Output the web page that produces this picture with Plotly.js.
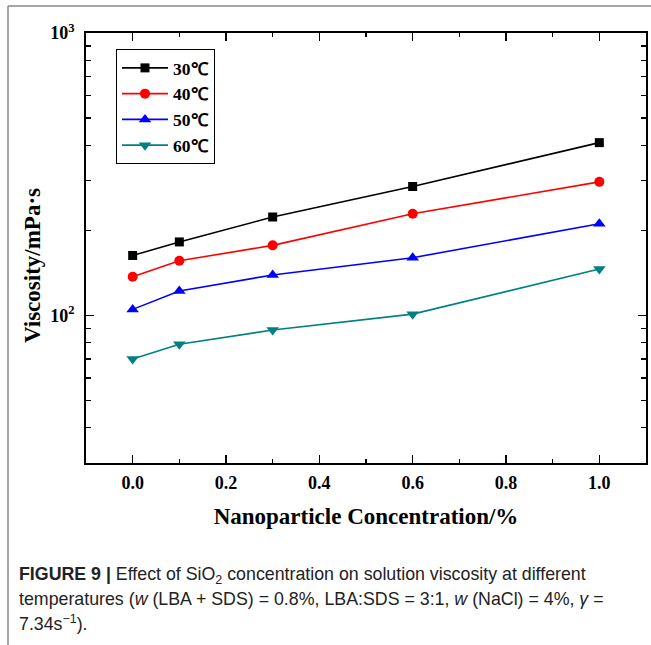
<!DOCTYPE html>
<html>
<head>
<meta charset="utf-8">
<script src="https://cdn.plot.ly/plotly-3.0.1.min.js"></script>
<style>
html,body{margin:0;padding:0;background:#fff;}
#chart{width:651px;height:645px;}
</style>
</head>
<body>
<div id="chart"></div>
<script>
// ---- data ----
const concentration = [0, 0.1, 0.3, 0.6, 1.0];
const seriesNames = ["30\u2103", "40\u2103", "50\u2103", "60\u2103"];
const visc30 = [163, 182, 223, 286, 409];
const visc40 = [137, 156, 177, 229, 297];
const visc50 = [105, 122, 139, 160, 211];
const visc60 = [70, 79, 88.7, 101, 146];
const xTickVals = [0, 0.2, 0.4, 0.6, 0.8, 1.0];
const xTickText = ["0.0", "0.2", "0.4", "0.6", "0.8", "1.0"];
const yTickVals = [100, 1000];
const yTickText = ["10<sup>2</sup>", "10<sup>3</sup>"];
const yMinorVals = [40, 50, 60, 70, 80, 90, 200, 300, 400, 500, 600, 700, 800, 900];
const xTitle = "Nanoparticle Concentration/%";
const yTitle = "Viscosity/mPa\u00b7s";
const captionLines = [
  "<b>FIGURE 9 |</b> Effect of SiO<sub>2</sub> concentration on solution viscosity at different",
  "temperatures (<i>w</i> (LBA + SDS) = 0.8%, LBA:SDS = 3:1, <i>w</i> (NaCl) = 4%, <i>\u03b3</i> =",
  "7.34s<sup>\u22121</sup>)."
];

// ---- styles ----
const colors = ["#000000", "#ff0000", "#0000ff", "#008080"];
const symbols = ["square", "circle", "triangle-up", "triangle-down"];
const msizes = [9, 10, 11, 11];
const allY = [visc30, visc40, visc50, visc60];

const serif = {family: "Liberation Serif, Times New Roman, serif", color: "#000"};

const traces = allY.map((ys, i) => ({
  x: concentration, y: ys, name: seriesNames[i],
  type: "scatter", mode: "lines+markers",
  line: {color: colors[i], width: 1.6},
  marker: {symbol: symbols[i], size: msizes[i], color: colors[i]}
}));

const L = 86, T = 33, W = 560, H = 430;
const px = v => (v - L) / W;
const py = v => (T + H - v) / H;

const annotations = captionLines.map((t, i) => ({
  xref: "paper", yref: "paper", x: px(17), y: py(575 + 24 * i),
  xanchor: "left", yanchor: "middle", showarrow: false, text: t,
  font: {family: "Liberation Sans, Arial, sans-serif", size: 17.8, color: "#222"}
}));
annotations.push({
  xref: "paper", yref: "paper", x: px(32), y: py(266),
  xanchor: "center", yanchor: "middle", showarrow: false, textangle: -90,
  text: yTitle, font: Object.assign({size: 23, weight: "bold"}, serif)
});

const layout = {
  width: 651, height: 645,
  margin: {l: L, r: 651 - L - W, t: T, b: 645 - T - H},
  paper_bgcolor: "#fff", plot_bgcolor: "#fff",
  showlegend: true,
  legend: {
    x: px(116), y: py(49), xanchor: "left", yanchor: "top",
    bgcolor: "#fff", bordercolor: "#000", borderwidth: 1,
    font: Object.assign({size: 17.5, weight: "bold"}, serif),
    itemwidth: 46, entrywidth: 100
  },
  xaxis: {
    type: "linear", range: [-0.1, 1.1],
    tickvals: xTickVals, ticktext: xTickText,
    ticks: "inside", ticklen: 8, tickwidth: 1.5, tickcolor: "#000",
    minor: {dtick: 0.1, tick0: 0, ticks: "inside", ticklen: 4, tickwidth: 1.5, tickcolor: "#000"},
    showline: true, linecolor: "#000", linewidth: 1.8, mirror: "allticks",
    showgrid: false, zeroline: false,
    tickfont: Object.assign({size: 18, weight: "bold"}, serif),
    ticklabelstandoff: 3,
    title: {text: xTitle, font: Object.assign({size: 23, weight: "bold"}, serif), standoff: 15}
  },
  yaxis: {
    type: "log", range: [Math.log10(30), 3],
    tickvals: yTickVals, ticktext: yTickText,
    ticks: "inside", ticklen: 8, tickwidth: 1.5, tickcolor: "#000",
    minor: {tickvals: yMinorVals, ticks: "inside", ticklen: 5, tickwidth: 1.5, tickcolor: "#000"},
    showline: true, linecolor: "#000", linewidth: 1.8, mirror: "allticks",
    showgrid: false, zeroline: false,
    tickfont: Object.assign({size: 18, weight: "bold"}, serif),
    ticklabelstandoff: 6
  },
  annotations: annotations,
  shapes: [
    {type: "line", xref: "paper", yref: "paper", x0: px(8), x1: px(651), y0: py(6), y1: py(6),
     line: {color: "#888", width: 1.5}},
    {type: "line", xref: "paper", yref: "paper", x0: px(8), x1: px(8), y0: py(6), y1: py(645),
     line: {color: "#888", width: 1.5}}
  ]
};

Plotly.newPlot("chart", traces, layout, {displayModeBar: false, staticPlot: true});
</script>
</body>
</html>
